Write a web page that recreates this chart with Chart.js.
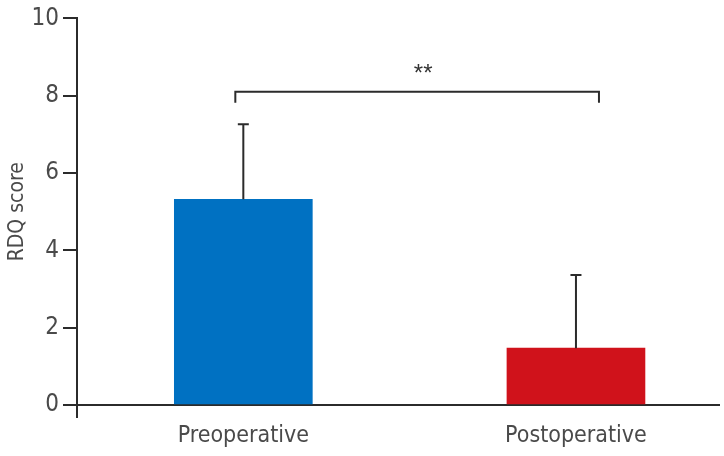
<!DOCTYPE html>
<html>
<head>
<meta charset="utf-8">
<script src="https://cdn.jsdelivr.net/npm/chart.js@4/dist/chart.umd.min.js"></script>
<style>
  html, body { margin: 0; padding: 0; background: #fff; }
  #wrap { width: 724px; height: 456px; position: relative; }
</style>
</head>
<body>
<div id="wrap"><canvas id="c"></canvas></div>
<script>
const categories = ['Preoperative', 'Postoperative'];
const meanValues = [5.32, 1.47];
const sdUpper = [7.26, 3.36];
const barColors = ['#0071C2', '#D0121B'];
const yTicks = [0, 2, 4, 6, 8, 10];
const yTitle = 'RDQ score';
const sigLabel = '**';
const sigLevel = 8.1;

const FONT = '"Liberation Sans Narrow", "DejaVu Sans Condensed", "Roboto", sans-serif';
const AXIS = '#2b2b2b';
const TEXT = '#4a4a4a';

const overlay = {
  id: 'overlay',
  afterDatasetsDraw(chart) {
    const ctx = chart.ctx;
    const xs = chart.scales.x, ys = chart.scales.y;
    ctx.save();
    ctx.strokeStyle = AXIS;
    ctx.lineWidth = 2;
    meanValues.forEach((m, i) => {
      const x = xs.getPixelForValue(i);
      const y0 = ys.getPixelForValue(m);
      const y1 = ys.getPixelForValue(sdUpper[i]);
      ctx.beginPath();
      ctx.moveTo(x, y0); ctx.lineTo(x, y1);
      ctx.moveTo(x - 5.5, y1); ctx.lineTo(x + 5.5, y1);
      ctx.stroke();
    });
    const bx0 = xs.getPixelForValue(0) - 8;
    const bx1 = xs.getPixelForValue(1) + 23;
    const by = ys.getPixelForValue(sigLevel);
    ctx.beginPath();
    ctx.moveTo(bx0, by + 11); ctx.lineTo(bx0, by); ctx.lineTo(bx1, by); ctx.lineTo(bx1, by + 11);
    ctx.stroke();
    ctx.fillStyle = '#333';
    ctx.font = '24px "Liberation Sans", sans-serif';
    ctx.textAlign = 'center';
    ctx.textBaseline = 'alphabetic';
    ctx.fillText(sigLabel, (bx0 + bx1) / 2 + 6, by - 11);
    const a = chart.chartArea;
    ctx.beginPath();
    ctx.moveTo(a.left, a.bottom); ctx.lineTo(a.left, a.bottom + 13);
    ctx.moveTo(a.left, a.bottom); ctx.lineTo(a.left - 14, a.bottom);
    ctx.stroke();
    ctx.restore();
  }
};

new Chart(document.getElementById('c'), {
  type: 'bar',
  data: {
    datasets: [{
      data: meanValues.map((v, i) => ({ x: i, y: v })),
      backgroundColor: barColors,
      borderWidth: 0,
      barThickness: 138
    }]
  },
  options: {
    responsive: true,
    maintainAspectRatio: false,
    animation: false,
    layout: { padding: { top: 18, right: 5, left: 0, bottom: 0 } },
    plugins: { legend: { display: false }, tooltip: { enabled: false } },
    scales: {
      x: {
        type: 'linear',
        offset: false,
        min: -0.5,
        max: 1.43,
        afterBuildTicks(s) { s.ticks = categories.map((_, i) => ({ value: i })); },
        afterFit(s) { s.height = 51; },
        grid: { display: false, drawTicks: false, offset: false },
        border: { display: true, color: AXIS, width: 2 },
        ticks: {
          padding: 17,
          color: TEXT,
          font: { family: FONT, size: 23 },
          callback: (v) => categories[v] ?? ''
        }
      },
      y: {
        min: 0,
        max: 10,
        afterBuildTicks(s) { s.ticks = yTicks.map(v => ({ value: v })); },
        afterFit(s) { s.width = 77; },
        grid: { drawOnChartArea: false, drawTicks: true, tickLength: 14, color: AXIS, lineWidth: 2 },
        border: { display: true, color: AXIS, width: 2 },
        ticks: {
          padding: 4,
          color: TEXT,
          font: { family: FONT, size: 24 }
        },
        title: {
          display: true,
          text: yTitle,
          color: TEXT,
          font: { family: FONT, size: 21 },
          padding: { top: 5, bottom: 0 }
        }
      }
    }
  },
  plugins: [overlay]
});
</script>
</body>
</html>
